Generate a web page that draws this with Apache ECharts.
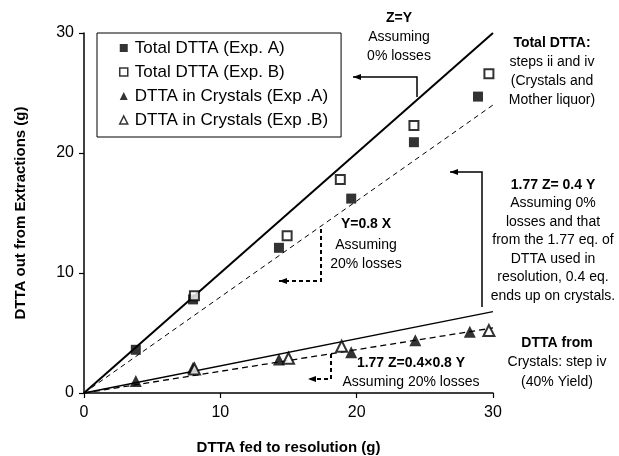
<!DOCTYPE html>
<html><head><meta charset="utf-8">
<script src="https://cdn.jsdelivr.net/npm/echarts@6/dist/echarts.min.js"></script>
<style>html,body{margin:0;padding:0;background:#fff}#chart{width:619px;height:456px}</style>
</head><body><div id="chart"></div>
<script>
// Measured DTTA (g): fed to resolution vs. recovered
const feedTotalA = [3.8, 8.0, 14.3, 19.6, 24.2, 28.9];
const totalA     = [3.6, 7.8, 12.1, 16.2, 20.9, 24.7];
const feedTotalB = [8.1, 14.9, 18.8, 24.2, 29.7];
const totalB     = [8.1, 13.1, 17.8, 22.3, 26.6];
const feedCrystA = [3.8, 8.0, 14.3, 19.6, 24.3, 28.3];
const crystA     = [1.0, 2.1, 2.8, 3.4, 4.4, 5.1];
const feedCrystB = [8.1, 15.0, 18.9, 29.7];
const crystB     = [2.0, 2.9, 3.9, 5.2];

// Model lines (end points)
const modelX      = [0, 30];
const zEqualsY    = [0, 30];
const y08x        = [0, 24];
const crystNoLoss = [0, 6.78];
const cryst20Loss = [0, 5.42];

const axisTicks = [0, 10, 20, 30];
const seriesNames = ['Total DTTA (Exp. A)', 'Total DTTA (Exp. B)', 'DTTA in Crystals (Exp .A)', 'DTTA in Crystals (Exp .B)'];

const FONT = '"Liberation Sans", Arial, sans-serif';
const pairs = (xs, ys) => xs.map((x, i) => [x, ys[i]]);

const chart = echarts.init(document.getElementById('chart'), null, {renderer: 'canvas'});

const axisCommon = {
  type: 'value', min: axisTicks[0], max: axisTicks[axisTicks.length - 1], interval: 10,
  splitLine: {show: false},
  axisLine: {show: true, lineStyle: {color: '#000', width: 1.5}},
  axisTick: {show: true, inside: false, length: 5, lineStyle: {color: '#000', width: 1.2}},
  axisLabel: {color: '#000', fontSize: 16, fontFamily: FONT},
  nameLocation: 'middle',
  nameTextStyle: {color: '#000', fontSize: 15, fontWeight: 'bold', fontFamily: FONT}
};

function modelLine(ys, width, dash) {
  return {
    type: 'line', data: pairs(modelX, ys), symbol: 'none', silent: true, z: 1,
    lineStyle: {color: '#000', width: width, type: dash ? dash : 'solid'}
  };
}

function textBlock(lines, cx, ys, boldRows) {
  return lines.map((t, i) => ({
    type: 'text', x: cx, y: ys[i], silent: true,
    style: {
      text: t, fill: '#000', align: 'center', verticalAlign: 'middle',
      font: (boldRows.indexOf(i) >= 0 ? 'bold ' : '') + '14px ' + FONT
    }
  }));
}

function arrow(points, dashed) {
  const tip = points[points.length - 1];
  const prev = points[points.length - 2];
  const dir = Math.sign(tip[0] - prev[0]);
  return [
    {type: 'polyline', silent: true, shape: {points: points},
     style: {stroke: '#000', lineWidth: dashed ? 2 : 1.5, fill: null, lineDash: dashed ? [4, 3] : null}},
    {type: 'polygon', silent: true,
     shape: {points: [[tip[0], tip[1]], [tip[0] - dir * 8, tip[1] - 3], [tip[0] - dir * 8, tip[1] + 3]]},
     style: {fill: '#000'}}
  ];
}

const graphics = [].concat(
  textBlock(['Z=Y', 'Assuming', '0% losses'], 399, [18, 37, 56], [0]),
  arrow([[417, 97], [417, 77], [353, 77]], false),
  textBlock(['Total DTTA:', 'steps ii and iv', '(Crystals and', 'Mother liquor)'], 552, [43, 62, 81, 100], [0]),
  textBlock(['1.77 Z= 0.4 Y', 'Assuming 0%', 'losses and that', 'from the 1.77 eq. of', 'DTTA used in', 'resolution, 0.4 eq.', 'ends up on crystals.'],
            553, [185, 203, 222, 240, 259, 277, 296], [0]),
  arrow([[482, 307], [482, 172], [450, 172]], false),
  textBlock(['Y=0.8 X', 'Assuming', '20% losses'], 366, [224, 245, 264], [0]),
  arrow([[321, 229], [321, 281], [279, 281]], true),
  textBlock(['1.77 Z=0.4\u00d70.8 Y', 'Assuming 20% losses'], 411, [363, 382], [0]),
  arrow([[331, 354], [331, 379], [308, 379]], true),
  textBlock(['DTTA from', 'Crystals: step iv', '(40% Yield)'], 557, [343, 362, 382], [0])
);

chart.setOption({
  animation: false,
  backgroundColor: '#fff',
  grid: {left: 84, right: 126, top: 33, bottom: 63, containLabel: false, outerBoundsMode: 'none'},
  xAxis: Object.assign({}, axisCommon, {name: 'DTTA fed to resolution (g)', nameGap: 47, axisLabel: Object.assign({}, axisCommon.axisLabel, {margin: 12})}),
  yAxis: Object.assign({}, axisCommon, {name: 'DTTA out from Extractions (g)', nameGap: 56, axisLabel: Object.assign({}, axisCommon.axisLabel, {margin: 10})}),
  legend: {
    data: seriesNames.map(n => ({name: n, itemStyle: {borderWidth: 1.5}})),
    orient: 'vertical', left: 97, top: 33,
    borderColor: '#000', borderWidth: 1, padding: [6, 13, 8, 22],
    itemWidth: 8, itemHeight: 8, itemGap: 6,
    textStyle: {color: '#000', fontSize: 17, fontFamily: FONT, lineHeight: 18, padding: [0, 0, 0, 2]}
  },
  series: [
    modelLine(zEqualsY, 2),
    modelLine(y08x, 1, [5, 4]),
    modelLine(crystNoLoss, 1.3),
    modelLine(cryst20Loss, 1.3, [6, 4]),
    {name: seriesNames[0], type: 'scatter', z: 3, symbol: 'rect', symbolSize: 10,
     data: pairs(feedTotalA, totalA), itemStyle: {color: '#000'}},
    {name: seriesNames[1], type: 'scatter', z: 3, symbol: 'rect', symbolSize: 9,
     data: pairs(feedTotalB, totalB), itemStyle: {color: '#fff', borderColor: '#000', borderWidth: 2}},
    {name: seriesNames[2], type: 'scatter', z: 3, symbol: 'triangle', symbolSize: 12,
     data: pairs(feedCrystA, crystA), itemStyle: {color: '#000'}},
    {name: seriesNames[3], type: 'scatter', z: 3, symbol: 'triangle', symbolSize: 11,
     data: pairs(feedCrystB, crystB), itemStyle: {color: '#fff', borderColor: '#000', borderWidth: 2}}
  ],
  graphic: graphics
});
</script>
</body></html>
